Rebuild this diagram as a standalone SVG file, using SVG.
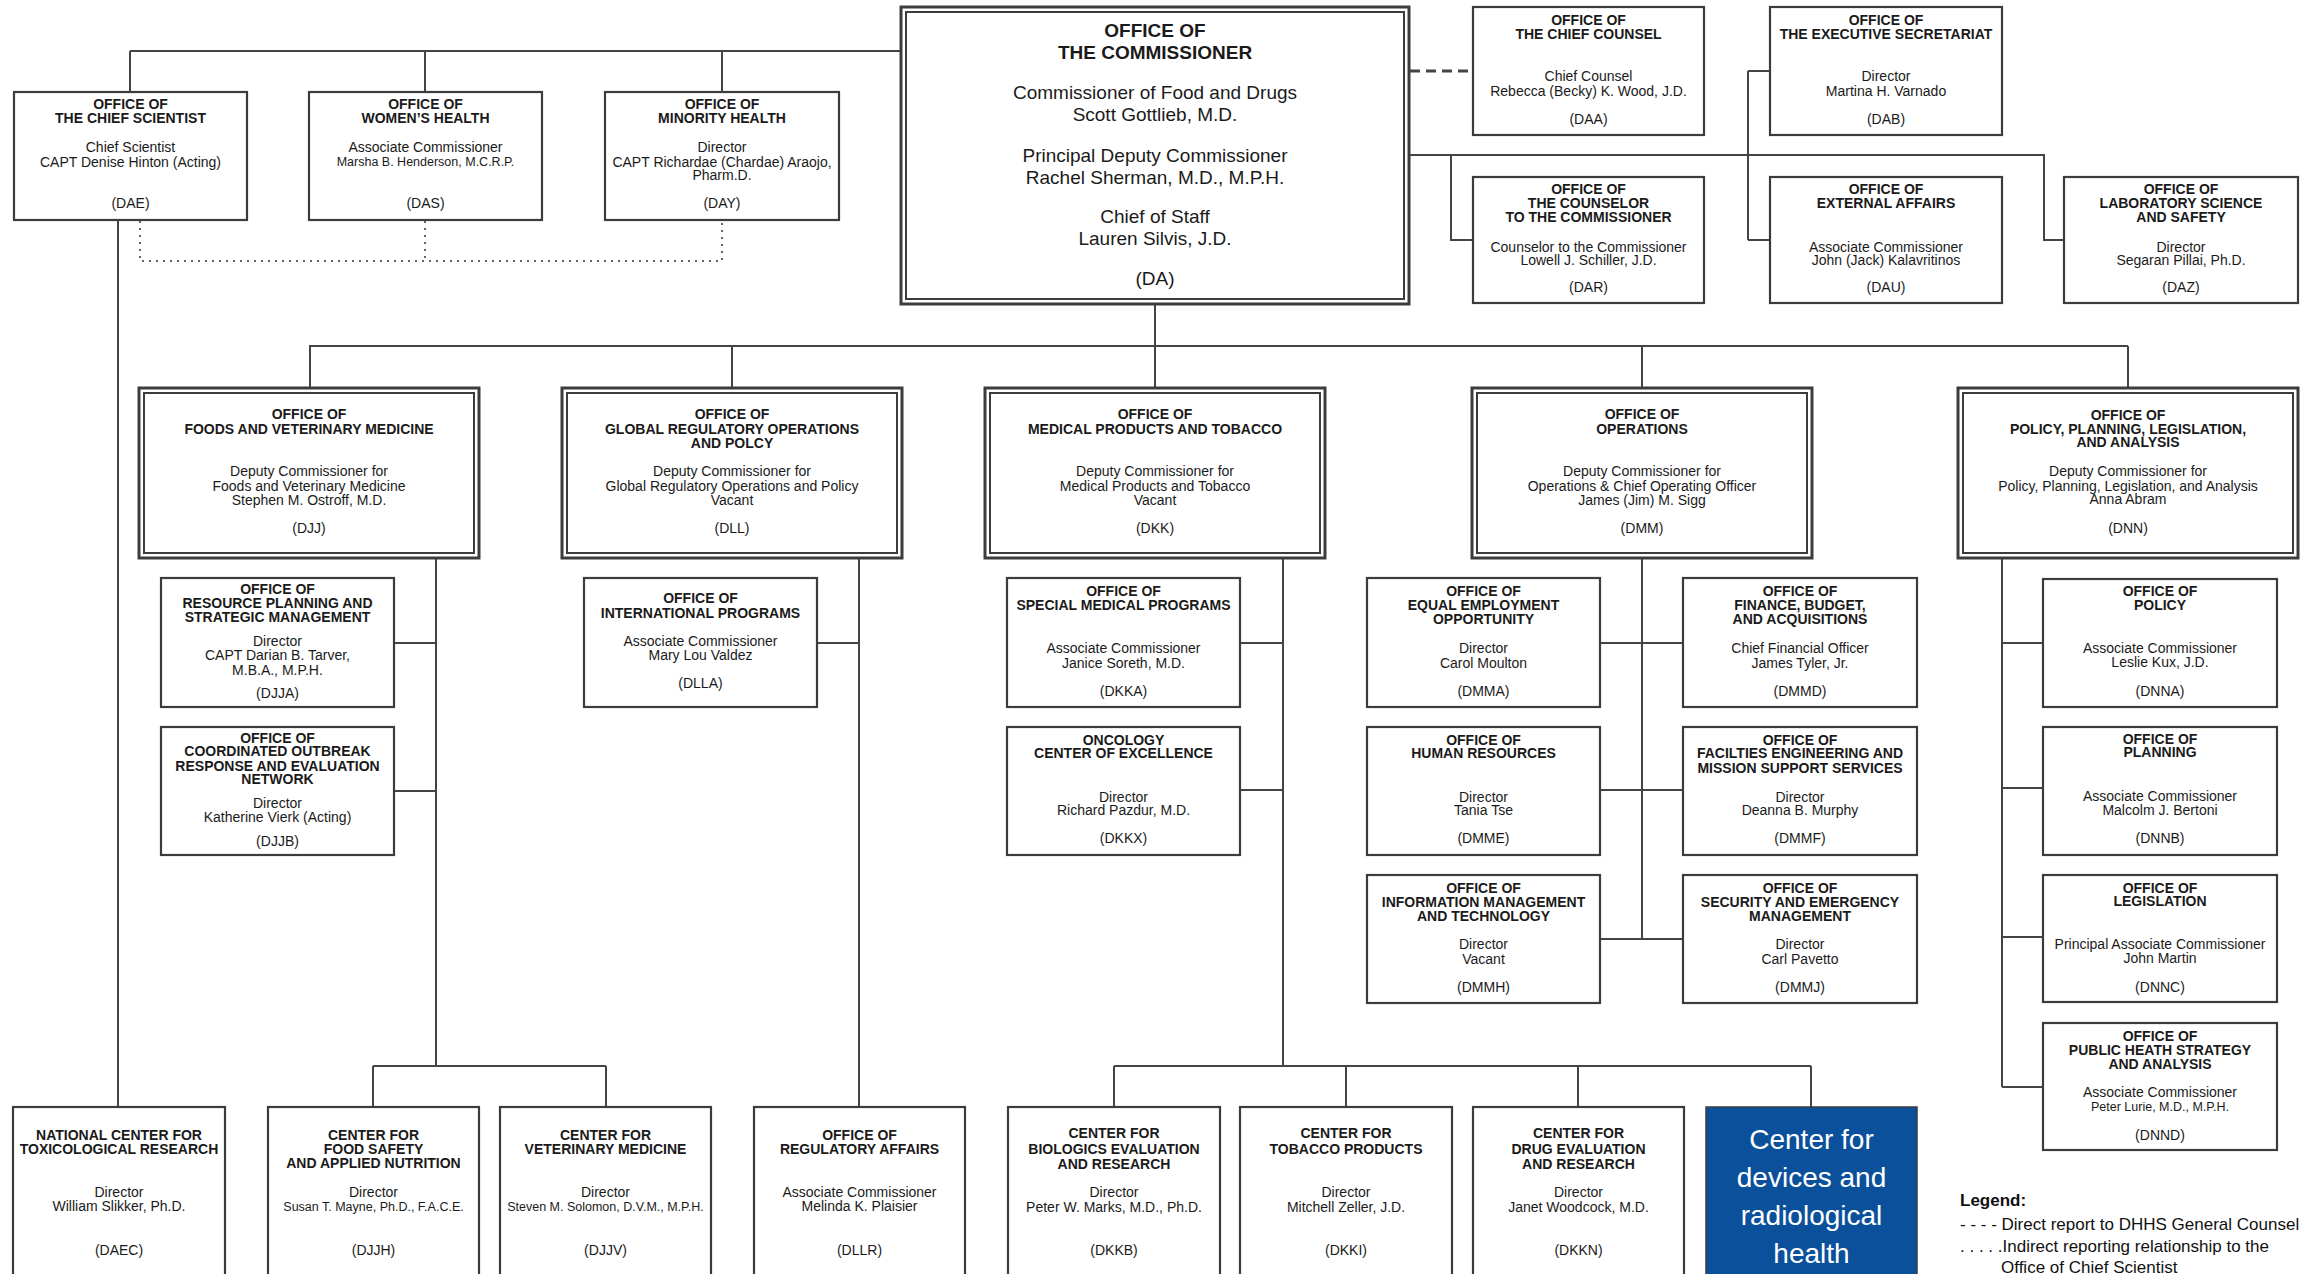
<svg xmlns="http://www.w3.org/2000/svg" width="2300" height="1274" viewBox="0 0 2300 1274">
<style>
.t{font-family:"Liberation Sans",Arial,sans-serif;font-size:14px;fill:#1a1a1a;text-anchor:middle}
.b{font-weight:bold}
.s{font-size:12.5px}
.big{font-size:19px}
.box{fill:#fff;stroke:#3c3c3c;stroke-width:2.2}
.outer{fill:#fff;stroke:#3c3c3c;stroke-width:3}
.inner{fill:none;stroke:#3c3c3c;stroke-width:2}
.ln{stroke:#444;stroke-width:2;fill:none}
.dot{stroke:#666;stroke-width:2;stroke-dasharray:2 5;fill:none}
.dash{stroke:#444;stroke-width:3;stroke-dasharray:10 6;fill:none}
.cdrh{fill:#0b509b;stroke:#3c3c3c;stroke-width:1.5}
.wt{font-family:"Liberation Sans",Arial,sans-serif;font-size:28px;fill:#fff;text-anchor:middle}
.lg{font-family:"Liberation Sans",Arial,sans-serif;font-size:17px;fill:#111}
</style>
<rect width="2300" height="1274" fill="#fff"/>
<g id="connectors">
<path class="ln" d="M130 51H901M130 51V92M425 51V92M722 51V92"/>
<path class="dot" d="M140 221V261H722V221M425 221V261"/>
<path class="ln" d="M118 220V1107"/>
<path class="dash" d="M1410 71H1473"/>
<path class="ln" d="M1410 155H2044V240H2064M1451 155V240H1473M1748 71V240M1748 71H1770M1748 240H1770"/>
<path class="ln" d="M1155 304V346M309 346H2128M310 346V388M732 346V388M1155 346V388M1642 346V388M2128 346V388"/>
<path class="ln" d="M436 558V1066M394 643H436M394 791H436M373 1066H606M373 1066V1107M606 1066V1107"/>
<path class="ln" d="M859 558V1107M817 643H859"/>
<path class="ln" d="M1283 558V1066M1240 643H1283M1240 790H1283M1114 1066H1811M1114 1066V1107M1346 1066V1107M1578 1066V1107M1811 1066V1107"/>
<path class="ln" d="M1642 558V939M1600 643H1683M1600 790H1683M1600 939H1683"/>
<path class="ln" d="M2002 558V1087M2002 643H2043M2002 788H2043M2002 937H2043M2002 1087H2043"/>
</g>

<g id="DA">
<rect class="outer" x="901" y="7" width="508" height="297"/>
<rect class="inner" x="906" y="12" width="498" height="287"/>
<text class="t b big" x="1155" y="37">OFFICE OF</text>
<text class="t b big" x="1155" y="59">THE COMMISSIONER</text>
<text class="t big" x="1155" y="99">Commissioner of Food and Drugs</text>
<text class="t big" x="1155" y="121">Scott Gottlieb, M.D.</text>
<text class="t big" x="1155" y="162">Principal Deputy Commissioner</text>
<text class="t big" x="1155" y="184">Rachel Sherman, M.D., M.P.H.</text>
<text class="t big" x="1155" y="223">Chief of Staff</text>
<text class="t big" x="1155" y="245">Lauren Silvis, J.D.</text>
<text class="t big" x="1155" y="285">(DA)</text>
</g>

<g id="DAE">
<rect class="box" x="14" y="92" width="233" height="128"/>
<text class="t b" x="130.5" y="109">OFFICE OF</text>
<text class="t b" x="130.5" y="123">THE CHIEF SCIENTIST</text>
<text class="t" x="130.5" y="152">Chief Scientist</text>
<text class="t" x="130.5" y="167">CAPT Denise Hinton (Acting)</text>
<text class="t" x="130.5" y="208">(DAE)</text>
</g>
<g id="DAS">
<rect class="box" x="309" y="92" width="233" height="128"/>
<text class="t b" x="425.5" y="109">OFFICE OF</text>
<text class="t b" x="425.5" y="123">WOMEN’S HEALTH</text>
<text class="t" x="425.5" y="152">Associate Commissioner</text>
<text class="t s" x="425.5" y="166">Marsha B. Henderson, M.C.R.P.</text>
<text class="t" x="425.5" y="208">(DAS)</text>
</g>
<g id="DAY">
<rect class="box" x="605" y="92" width="234" height="128"/>
<text class="t b" x="722" y="109">OFFICE OF</text>
<text class="t b" x="722" y="123">MINORITY HEALTH</text>
<text class="t" x="722" y="152">Director</text>
<text class="t" x="722" y="167">CAPT Richardae (Chardae) Araojo,</text>
<text class="t" x="722" y="180">Pharm.D.</text>
<text class="t" x="722" y="208">(DAY)</text>
</g>

<g id="DAA">
<rect class="box" x="1473" y="7" width="231" height="128"/>
<text class="t b" x="1588.5" y="25">OFFICE OF</text>
<text class="t b" x="1588.5" y="39">THE CHIEF COUNSEL</text>
<text class="t" x="1588.5" y="81">Chief Counsel</text>
<text class="t" x="1588.5" y="96">Rebecca (Becky) K. Wood, J.D.</text>
<text class="t" x="1588.5" y="124">(DAA)</text>
</g>
<g id="DAB">
<rect class="box" x="1770" y="7" width="232" height="128"/>
<text class="t b" x="1886" y="25">OFFICE OF</text>
<text class="t b" x="1886" y="39">THE EXECUTIVE SECRETARIAT</text>
<text class="t" x="1886" y="81">Director</text>
<text class="t" x="1886" y="96">Martina H. Varnado</text>
<text class="t" x="1886" y="124">(DAB)</text>
</g>
<g id="DAR">
<rect class="box" x="1473" y="177" width="231" height="126"/>
<text class="t b" x="1588.5" y="194">OFFICE OF</text>
<text class="t b" x="1588.5" y="208">THE COUNSELOR</text>
<text class="t b" x="1588.5" y="222">TO THE COMMISSIONER</text>
<text class="t" x="1588.5" y="252">Counselor to the Commissioner</text>
<text class="t" x="1588.5" y="265">Lowell J. Schiller, J.D.</text>
<text class="t" x="1588.5" y="292">(DAR)</text>
</g>
<g id="DAU">
<rect class="box" x="1770" y="177" width="232" height="126"/>
<text class="t b" x="1886" y="194">OFFICE OF</text>
<text class="t b" x="1886" y="208">EXTERNAL AFFAIRS</text>
<text class="t" x="1886" y="252">Associate Commissioner</text>
<text class="t" x="1886" y="265">John (Jack) Kalavritinos</text>
<text class="t" x="1886" y="292">(DAU)</text>
</g>
<g id="DAZ">
<rect class="box" x="2064" y="177" width="234" height="126"/>
<text class="t b" x="2181" y="194">OFFICE OF</text>
<text class="t b" x="2181" y="208">LABORATORY SCIENCE</text>
<text class="t b" x="2181" y="222">AND SAFETY</text>
<text class="t" x="2181" y="252">Director</text>
<text class="t" x="2181" y="265">Segaran Pillai, Ph.D.</text>
<text class="t" x="2181" y="292">(DAZ)</text>
</g>

<g id="DJJ">
<rect class="outer" x="139" y="388" width="340" height="170"/>
<rect class="inner" x="144" y="393" width="330" height="160"/>
<text class="t b" x="309" y="419">OFFICE OF</text>
<text class="t b" x="309" y="434">FOODS AND VETERINARY MEDICINE</text>
<text class="t" x="309" y="476">Deputy Commissioner for</text>
<text class="t" x="309" y="491">Foods and Veterinary Medicine</text>
<text class="t" x="309" y="505">Stephen M. Ostroff, M.D.</text>
<text class="t" x="309" y="533">(DJJ)</text>
</g>
<g id="DLL">
<rect class="outer" x="562" y="388" width="340" height="170"/>
<rect class="inner" x="567" y="393" width="330" height="160"/>
<text class="t b" x="732" y="419">OFFICE OF</text>
<text class="t b" x="732" y="434">GLOBAL REGULATORY OPERATIONS</text>
<text class="t b" x="732" y="448">AND POLCY</text>
<text class="t" x="732" y="476">Deputy Commissioner for</text>
<text class="t" x="732" y="491">Global Regulatory Operations and Policy</text>
<text class="t" x="732" y="505">Vacant</text>
<text class="t" x="732" y="533">(DLL)</text>
</g>
<g id="DKK">
<rect class="outer" x="985" y="388" width="340" height="170"/>
<rect class="inner" x="990" y="393" width="330" height="160"/>
<text class="t b" x="1155" y="419">OFFICE OF</text>
<text class="t b" x="1155" y="434">MEDICAL PRODUCTS AND TOBACCO</text>
<text class="t" x="1155" y="476">Deputy Commissioner for</text>
<text class="t" x="1155" y="491">Medical Products and Tobacco</text>
<text class="t" x="1155" y="505">Vacant</text>
<text class="t" x="1155" y="533">(DKK)</text>
</g>
<g id="DMM">
<rect class="outer" x="1472" y="388" width="340" height="170"/>
<rect class="inner" x="1477" y="393" width="330" height="160"/>
<text class="t b" x="1642" y="419">OFFICE OF</text>
<text class="t b" x="1642" y="434">OPERATIONS</text>
<text class="t" x="1642" y="476">Deputy Commissioner for</text>
<text class="t" x="1642" y="491">Operations &amp; Chief Operating Officer</text>
<text class="t" x="1642" y="505">James (Jim) M. Sigg</text>
<text class="t" x="1642" y="533">(DMM)</text>
</g>
<g id="DNN">
<rect class="outer" x="1958" y="388" width="340" height="170"/>
<rect class="inner" x="1963" y="393" width="330" height="160"/>
<text class="t b" x="2128" y="420">OFFICE OF</text>
<text class="t b" x="2128" y="434">POLICY, PLANNING, LEGISLATION,</text>
<text class="t b" x="2128" y="447">AND ANALYSIS</text>
<text class="t" x="2128" y="476">Deputy Commissioner for</text>
<text class="t" x="2128" y="491">Policy, Planning, Legislation, and Analysis</text>
<text class="t" x="2128" y="504">Anna Abram</text>
<text class="t" x="2128" y="533">(DNN)</text>
</g>

<g id="DJJA">
<rect class="box" x="161" y="578" width="233" height="129"/>
<text class="t b" x="277.5" y="594">OFFICE OF</text>
<text class="t b" x="277.5" y="608">RESOURCE PLANNING AND</text>
<text class="t b" x="277.5" y="622">STRATEGIC MANAGEMENT</text>
<text class="t" x="277.5" y="646">Director</text>
<text class="t" x="277.5" y="660">CAPT Darian B. Tarver,</text>
<text class="t" x="277.5" y="675">M.B.A., M.P.H.</text>
<text class="t" x="277.5" y="698">(DJJA)</text>
</g>
<g id="DJJB">
<rect class="box" x="161" y="727" width="233" height="128"/>
<text class="t b" x="277.5" y="743">OFFICE OF</text>
<text class="t b" x="277.5" y="756">COORDINATED OUTBREAK</text>
<text class="t b" x="277.5" y="771">RESPONSE AND EVALUATION</text>
<text class="t b" x="277.5" y="784">NETWORK</text>
<text class="t" x="277.5" y="808">Director</text>
<text class="t" x="277.5" y="822">Katherine Vierk (Acting)</text>
<text class="t" x="277.5" y="846">(DJJB)</text>
</g>
<g id="DLLA">
<rect class="box" x="584" y="578" width="233" height="129"/>
<text class="t b" x="700.5" y="603">OFFICE OF</text>
<text class="t b" x="700.5" y="618">INTERNATIONAL PROGRAMS</text>
<text class="t" x="700.5" y="646">Associate Commissioner</text>
<text class="t" x="700.5" y="660">Mary Lou Valdez</text>
<text class="t" x="700.5" y="688">(DLLA)</text>
</g>
<g id="DKKA">
<rect class="box" x="1007" y="578" width="233" height="129"/>
<text class="t b" x="1123.5" y="596">OFFICE OF</text>
<text class="t b" x="1123.5" y="610">SPECIAL MEDICAL PROGRAMS</text>
<text class="t" x="1123.5" y="653">Associate Commissioner</text>
<text class="t" x="1123.5" y="668">Janice Soreth, M.D.</text>
<text class="t" x="1123.5" y="696">(DKKA)</text>
</g>
<g id="DKKX">
<rect class="box" x="1007" y="727" width="233" height="128"/>
<text class="t b" x="1123.5" y="745">ONCOLOGY</text>
<text class="t b" x="1123.5" y="758">CENTER OF EXCELLENCE</text>
<text class="t" x="1123.5" y="802">Director</text>
<text class="t" x="1123.5" y="815">Richard Pazdur, M.D.</text>
<text class="t" x="1123.5" y="843">(DKKX)</text>
</g>
<g id="DMMA">
<rect class="box" x="1367" y="578" width="233" height="129"/>
<text class="t b" x="1483.5" y="596">OFFICE OF</text>
<text class="t b" x="1483.5" y="610">EQUAL EMPLOYMENT</text>
<text class="t b" x="1483.5" y="624">OPPORTUNITY</text>
<text class="t" x="1483.5" y="653">Director</text>
<text class="t" x="1483.5" y="668">Carol Moulton</text>
<text class="t" x="1483.5" y="696">(DMMA)</text>
</g>
<g id="DMMD">
<rect class="box" x="1683" y="578" width="234" height="129"/>
<text class="t b" x="1800" y="596">OFFICE OF</text>
<text class="t b" x="1800" y="610">FINANCE, BUDGET,</text>
<text class="t b" x="1800" y="624">AND ACQUISITIONS</text>
<text class="t" x="1800" y="653">Chief Financial Officer</text>
<text class="t" x="1800" y="668">James Tyler, Jr.</text>
<text class="t" x="1800" y="696">(DMMD)</text>
</g>
<g id="DMME">
<rect class="box" x="1367" y="727" width="233" height="128"/>
<text class="t b" x="1483.5" y="745">OFFICE OF</text>
<text class="t b" x="1483.5" y="758">HUMAN RESOURCES</text>
<text class="t" x="1483.5" y="802">Director</text>
<text class="t" x="1483.5" y="815">Tania Tse</text>
<text class="t" x="1483.5" y="843">(DMME)</text>
</g>
<g id="DMMF">
<rect class="box" x="1683" y="727" width="234" height="128"/>
<text class="t b" x="1800" y="745">OFFICE OF</text>
<text class="t b" x="1800" y="758">FACILTIES ENGINEERING AND</text>
<text class="t b" x="1800" y="773">MISSION SUPPORT SERVICES</text>
<text class="t" x="1800" y="802">Director</text>
<text class="t" x="1800" y="815">Deanna B. Murphy</text>
<text class="t" x="1800" y="843">(DMMF)</text>
</g>
<g id="DMMH">
<rect class="box" x="1367" y="875" width="233" height="128"/>
<text class="t b" x="1483.5" y="893">OFFICE OF</text>
<text class="t b" x="1483.5" y="907">INFORMATION MANAGEMENT</text>
<text class="t b" x="1483.5" y="921">AND TECHNOLOGY</text>
<text class="t" x="1483.5" y="949">Director</text>
<text class="t" x="1483.5" y="964">Vacant</text>
<text class="t" x="1483.5" y="992">(DMMH)</text>
</g>
<g id="DMMJ">
<rect class="box" x="1683" y="875" width="234" height="128"/>
<text class="t b" x="1800" y="893">OFFICE OF</text>
<text class="t b" x="1800" y="907">SECURITY AND EMERGENCY</text>
<text class="t b" x="1800" y="921">MANAGEMENT</text>
<text class="t" x="1800" y="949">Director</text>
<text class="t" x="1800" y="964">Carl Pavetto</text>
<text class="t" x="1800" y="992">(DMMJ)</text>
</g>
<g id="DNNA">
<rect class="box" x="2043" y="579" width="234" height="128"/>
<text class="t b" x="2160" y="596">OFFICE OF</text>
<text class="t b" x="2160" y="610">POLICY</text>
<text class="t" x="2160" y="653">Associate Commissioner</text>
<text class="t" x="2160" y="667">Leslie Kux, J.D.</text>
<text class="t" x="2160" y="696">(DNNA)</text>
</g>
<g id="DNNB">
<rect class="box" x="2043" y="727" width="234" height="128"/>
<text class="t b" x="2160" y="744">OFFICE OF</text>
<text class="t b" x="2160" y="757">PLANNING</text>
<text class="t" x="2160" y="801">Associate Commissioner</text>
<text class="t" x="2160" y="815">Malcolm J. Bertoni</text>
<text class="t" x="2160" y="843">(DNNB)</text>
</g>
<g id="DNNC">
<rect class="box" x="2043" y="875" width="234" height="127"/>
<text class="t b" x="2160" y="893">OFFICE OF</text>
<text class="t b" x="2160" y="906">LEGISLATION</text>
<text class="t" x="2160" y="949">Principal Associate Commissioner</text>
<text class="t" x="2160" y="963">John Martin</text>
<text class="t" x="2160" y="992">(DNNC)</text>
</g>
<g id="DNND">
<rect class="box" x="2043" y="1023" width="234" height="127"/>
<text class="t b" x="2160" y="1041">OFFICE OF</text>
<text class="t b" x="2160" y="1055">PUBLIC HEATH STRATEGY</text>
<text class="t b" x="2160" y="1069">AND ANALYSIS</text>
<text class="t" x="2160" y="1097">Associate Commissioner</text>
<text class="t s" x="2160" y="1111">Peter Lurie, M.D., M.P.H.</text>
<text class="t" x="2160" y="1140">(DNND)</text>
</g>

<g id="DAEC">
<rect class="box" x="13" y="1107" width="212" height="190"/>
<text class="t b" x="119" y="1140">NATIONAL CENTER FOR</text>
<text class="t b" x="119" y="1154">TOXICOLOGICAL RESEARCH</text>
<text class="t" x="119" y="1197">Director</text>
<text class="t" x="119" y="1211">William Slikker, Ph.D.</text>
<text class="t" x="119" y="1255">(DAEC)</text>
</g>
<g id="DJJH">
<rect class="box" x="268" y="1107" width="211" height="190"/>
<text class="t b" x="373.5" y="1140">CENTER FOR</text>
<text class="t b" x="373.5" y="1154">FOOD SAFETY</text>
<text class="t b" x="373.5" y="1168">AND APPLIED NUTRITION</text>
<text class="t" x="373.5" y="1197">Director</text>
<text class="t s" x="373.5" y="1211">Susan T. Mayne, Ph.D., F.A.C.E.</text>
<text class="t" x="373.5" y="1255">(DJJH)</text>
</g>
<g id="DJJV">
<rect class="box" x="500" y="1107" width="211" height="190"/>
<text class="t b" x="605.5" y="1140">CENTER FOR</text>
<text class="t b" x="605.5" y="1154">VETERINARY MEDICINE</text>
<text class="t" x="605.5" y="1197">Director</text>
<text class="t s" x="605.5" y="1211">Steven M. Solomon, D.V.M., M.P.H.</text>
<text class="t" x="605.5" y="1255">(DJJV)</text>
</g>
<g id="DLLR">
<rect class="box" x="754" y="1107" width="211" height="190"/>
<text class="t b" x="859.5" y="1140">OFFICE OF</text>
<text class="t b" x="859.5" y="1154">REGULATORY AFFAIRS</text>
<text class="t" x="859.5" y="1197">Associate Commissioner</text>
<text class="t" x="859.5" y="1211">Melinda K. Plaisier</text>
<text class="t" x="859.5" y="1255">(DLLR)</text>
</g>
<g id="DKKB">
<rect class="box" x="1008" y="1107" width="212" height="190"/>
<text class="t b" x="1114" y="1138">CENTER FOR</text>
<text class="t b" x="1114" y="1154">BIOLOGICS EVALUATION</text>
<text class="t b" x="1114" y="1169">AND RESEARCH</text>
<text class="t" x="1114" y="1197">Director</text>
<text class="t" x="1114" y="1212">Peter W. Marks, M.D., Ph.D.</text>
<text class="t" x="1114" y="1255">(DKKB)</text>
</g>
<g id="DKKI">
<rect class="box" x="1240" y="1107" width="212" height="190"/>
<text class="t b" x="1346" y="1138">CENTER FOR</text>
<text class="t b" x="1346" y="1154">TOBACCO PRODUCTS</text>
<text class="t" x="1346" y="1197">Director</text>
<text class="t" x="1346" y="1212">Mitchell Zeller, J.D.</text>
<text class="t" x="1346" y="1255">(DKKI)</text>
</g>
<g id="DKKN">
<rect class="box" x="1473" y="1107" width="211" height="190"/>
<text class="t b" x="1578.5" y="1138">CENTER FOR</text>
<text class="t b" x="1578.5" y="1154">DRUG EVALUATION</text>
<text class="t b" x="1578.5" y="1169">AND RESEARCH</text>
<text class="t" x="1578.5" y="1197">Director</text>
<text class="t" x="1578.5" y="1212">Janet Woodcock, M.D.</text>
<text class="t" x="1578.5" y="1255">(DKKN)</text>
</g>
<g id="CDRH">
<rect class="cdrh" x="1706" y="1107" width="211" height="190"/>
<text class="wt" x="1811.5" y="1149">Center for</text>
<text class="wt" x="1811.5" y="1187">devices and</text>
<text class="wt" x="1811.5" y="1225">radiological</text>
<text class="wt" x="1811.5" y="1263">health</text>
</g>

<g id="legend">
<text class="lg" x="1960" y="1206" font-weight="bold">Legend:</text>
<text class="lg" x="1960" y="1230">- - - - Direct report to DHHS General Counsel</text>
<text class="lg" x="1960" y="1252">. . . . .Indirect reporting relationship to the</text>
<text class="lg" x="2001" y="1273">Office of Chief Scientist</text>
</g>
</svg>
